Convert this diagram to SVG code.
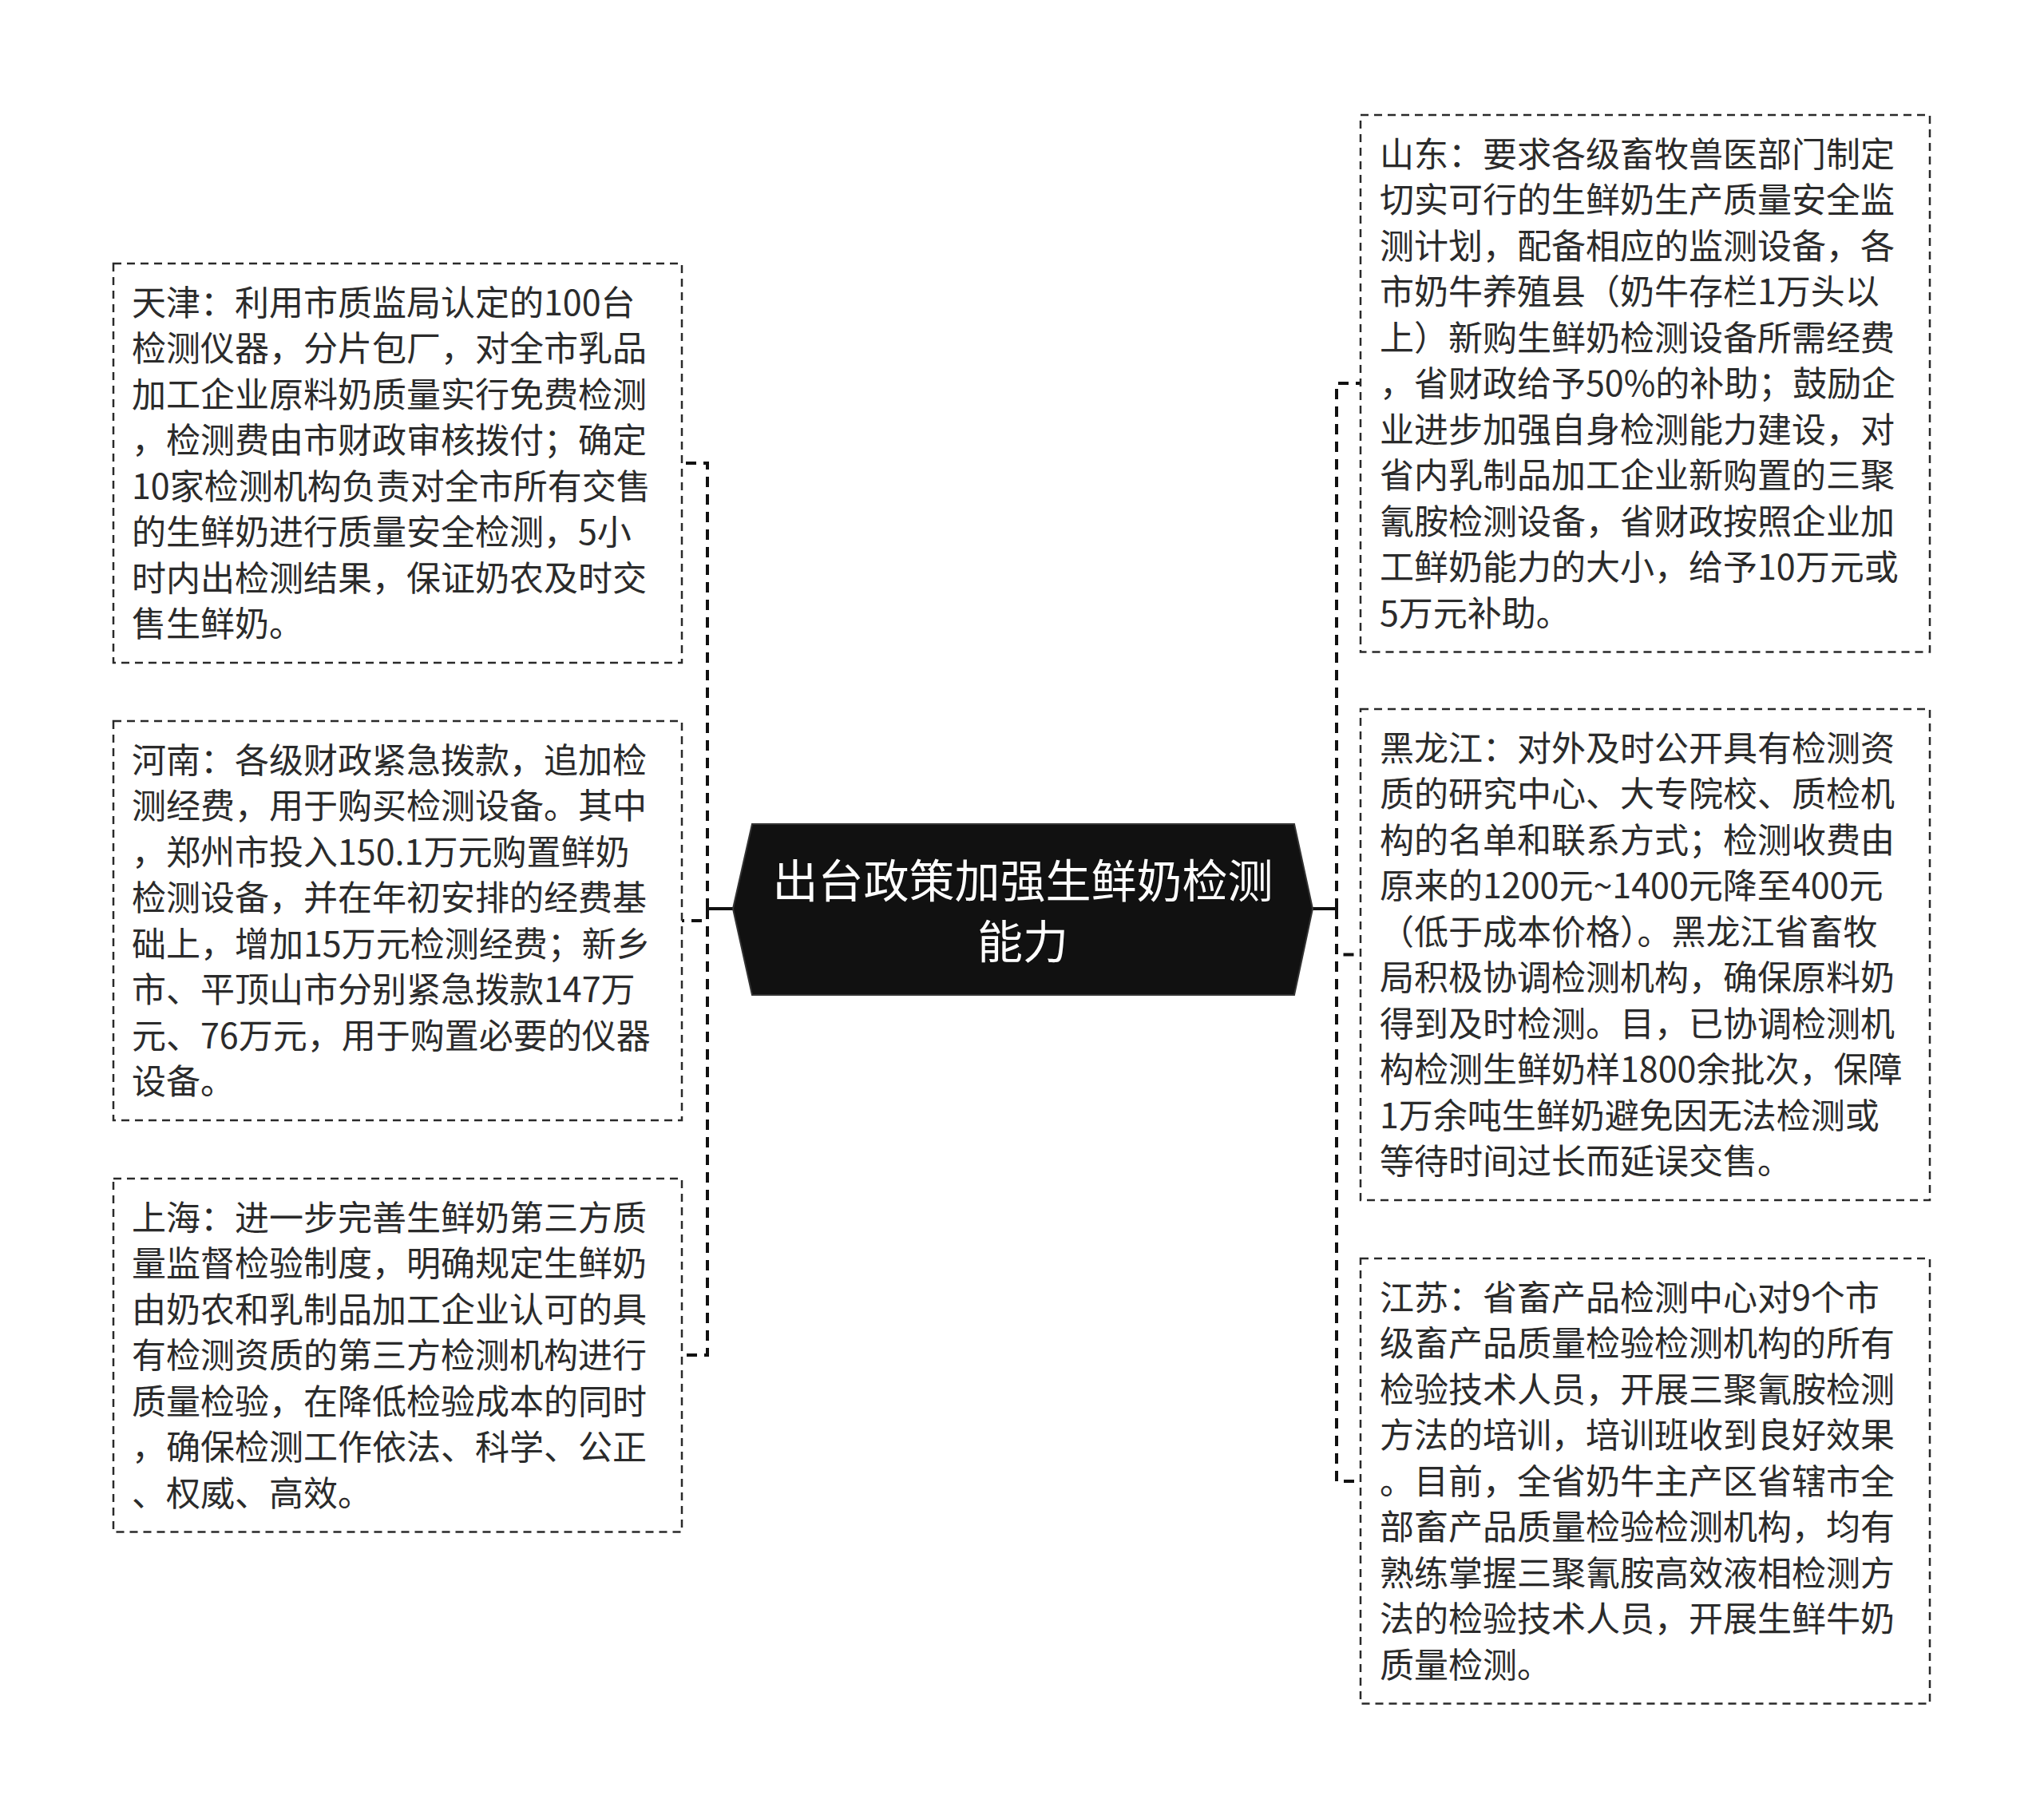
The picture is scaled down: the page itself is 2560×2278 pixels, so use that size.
<svg xmlns="http://www.w3.org/2000/svg" width="2560" height="2278" viewBox="0 0 2560 2278">
<style>
.box{fill:#ffffff;stroke:#2a2a2a;stroke-width:2.5;stroke-dasharray:10 7}
.t{font-family:"Noto Sans CJK SC","Noto Sans",sans-serif;font-size:43px;fill:#2b2b2b}
.ct{font-family:"Noto Sans CJK SC","Noto Sans",sans-serif;font-size:57px;fill:#ffffff;text-anchor:middle}
.dash{fill:none;stroke:#111111;stroke-width:4;stroke-dasharray:13 9}
.solid{fill:none;stroke:#111111;stroke-width:4}
</style>
<rect width="2560" height="2278" fill="#ffffff"/>
<g id="connectors">
<path class="solid" d="M918,1138 H886"/>
<path class="dash" d="M886,1138 V580 H854"/>
<path class="dash" d="M886,1138 V1153 H854"/>
<path class="dash" d="M886,1138 V1697 H854"/>
<path class="solid" d="M1644,1138 H1674"/>
<path class="dash" d="M1674,1138 V480 H1704"/>
<path class="dash" d="M1674,1138 V1195.5 H1704"/>
<path class="dash" d="M1674,1138 V1855 H1704"/>
</g>
<g id="root">
<polygon points="942,1032 1621,1032 1644,1138 1621,1246 942,1246 918,1138" fill="#111111" stroke="#333333" stroke-width="2"/>
<text class="ct" x="1281" y="1124">出台政策加强生鲜奶检测</text>
<text class="ct" x="1281" y="1200">能力</text>
</g>
<g id="tianjin">
<rect class="box" x="142" y="330" width="712" height="500"/>
<text class="t" x="165" y="394.75">天津：利用市质监局认定的100台</text>
<text class="t" x="165" y="452.25">检测仪器，分片包厂，对全市乳品</text>
<text class="t" x="165" y="509.75">加工企业原料奶质量实行免费检测</text>
<text class="t" x="165" y="567.25">，检测费由市财政审核拨付；确定</text>
<text class="t" x="165" y="624.75">10家检测机构负责对全市所有交售</text>
<text class="t" x="165" y="682.25">的生鲜奶进行质量安全检测，5小</text>
<text class="t" x="165" y="739.75">时内出检测结果，保证奶农及时交</text>
<text class="t" x="165" y="797.25">售生鲜奶。</text>
</g>
<g id="henan">
<rect class="box" x="142" y="903" width="712" height="500"/>
<text class="t" x="165" y="967.75">河南：各级财政紧急拨款，追加检</text>
<text class="t" x="165" y="1025.25">测经费，用于购买检测设备。其中</text>
<text class="t" x="165" y="1082.75">，郑州市投入150.1万元购置鲜奶</text>
<text class="t" x="165" y="1140.25">检测设备，并在年初安排的经费基</text>
<text class="t" x="165" y="1197.75">础上，增加15万元检测经费；新乡</text>
<text class="t" x="165" y="1255.25">市、平顶山市分别紧急拨款147万</text>
<text class="t" x="165" y="1312.75">元、76万元，用于购置必要的仪器</text>
<text class="t" x="165" y="1370.25">设备。</text>
</g>
<g id="shanghai">
<rect class="box" x="142" y="1476" width="712" height="442.5"/>
<text class="t" x="165" y="1540.75">上海：进一步完善生鲜奶第三方质</text>
<text class="t" x="165" y="1598.25">量监督检验制度，明确规定生鲜奶</text>
<text class="t" x="165" y="1655.75">由奶农和乳制品加工企业认可的具</text>
<text class="t" x="165" y="1713.25">有检测资质的第三方检测机构进行</text>
<text class="t" x="165" y="1770.75">质量检验，在降低检验成本的同时</text>
<text class="t" x="165" y="1828.25">，确保检测工作依法、科学、公正</text>
<text class="t" x="165" y="1885.75">、权威、高效。</text>
</g>
<g id="shandong">
<rect class="box" x="1704" y="144" width="713" height="672.5"/>
<text class="t" x="1728" y="208.75">山东：要求各级畜牧兽医部门制定</text>
<text class="t" x="1728" y="266.25">切实可行的生鲜奶生产质量安全监</text>
<text class="t" x="1728" y="323.75">测计划，配备相应的监测设备，各</text>
<text class="t" x="1728" y="381.25">市奶牛养殖县（奶牛存栏1万头以</text>
<text class="t" x="1728" y="438.75">上）新购生鲜奶检测设备所需经费</text>
<text class="t" x="1728" y="496.25">，省财政给予50%的补助；鼓励企</text>
<text class="t" x="1728" y="553.75">业进步加强自身检测能力建设，对</text>
<text class="t" x="1728" y="611.25">省内乳制品加工企业新购置的三聚</text>
<text class="t" x="1728" y="668.75">氰胺检测设备，省财政按照企业加</text>
<text class="t" x="1728" y="726.25">工鲜奶能力的大小，给予10万元或</text>
<text class="t" x="1728" y="783.75">5万元补助。</text>
</g>
<g id="heilongjiang">
<rect class="box" x="1704" y="888" width="713" height="615"/>
<text class="t" x="1728" y="952.75">黑龙江：对外及时公开具有检测资</text>
<text class="t" x="1728" y="1010.25">质的研究中心、大专院校、质检机</text>
<text class="t" x="1728" y="1067.75">构的名单和联系方式；检测收费由</text>
<text class="t" x="1728" y="1125.25">原来的1200元~1400元降至400元</text>
<text class="t" x="1728" y="1182.75">（低于成本价格）。黑龙江省畜牧</text>
<text class="t" x="1728" y="1240.25">局积极协调检测机构，确保原料奶</text>
<text class="t" x="1728" y="1297.75">得到及时检测。目，已协调检测机</text>
<text class="t" x="1728" y="1355.25">构检测生鲜奶样1800余批次，保障</text>
<text class="t" x="1728" y="1412.75">1万余吨生鲜奶避免因无法检测或</text>
<text class="t" x="1728" y="1470.25">等待时间过长而延误交售。</text>
</g>
<g id="jiangsu">
<rect class="box" x="1704" y="1576" width="713" height="557.5"/>
<text class="t" x="1728" y="1640.75">江苏：省畜产品检测中心对9个市</text>
<text class="t" x="1728" y="1698.25">级畜产品质量检验检测机构的所有</text>
<text class="t" x="1728" y="1755.75">检验技术人员，开展三聚氰胺检测</text>
<text class="t" x="1728" y="1813.25">方法的培训，培训班收到良好效果</text>
<text class="t" x="1728" y="1870.75">。目前，全省奶牛主产区省辖市全</text>
<text class="t" x="1728" y="1928.25">部畜产品质量检验检测机构，均有</text>
<text class="t" x="1728" y="1985.75">熟练掌握三聚氰胺高效液相检测方</text>
<text class="t" x="1728" y="2043.25">法的检验技术人员，开展生鲜牛奶</text>
<text class="t" x="1728" y="2100.75">质量检测。</text>
</g>
</svg>
